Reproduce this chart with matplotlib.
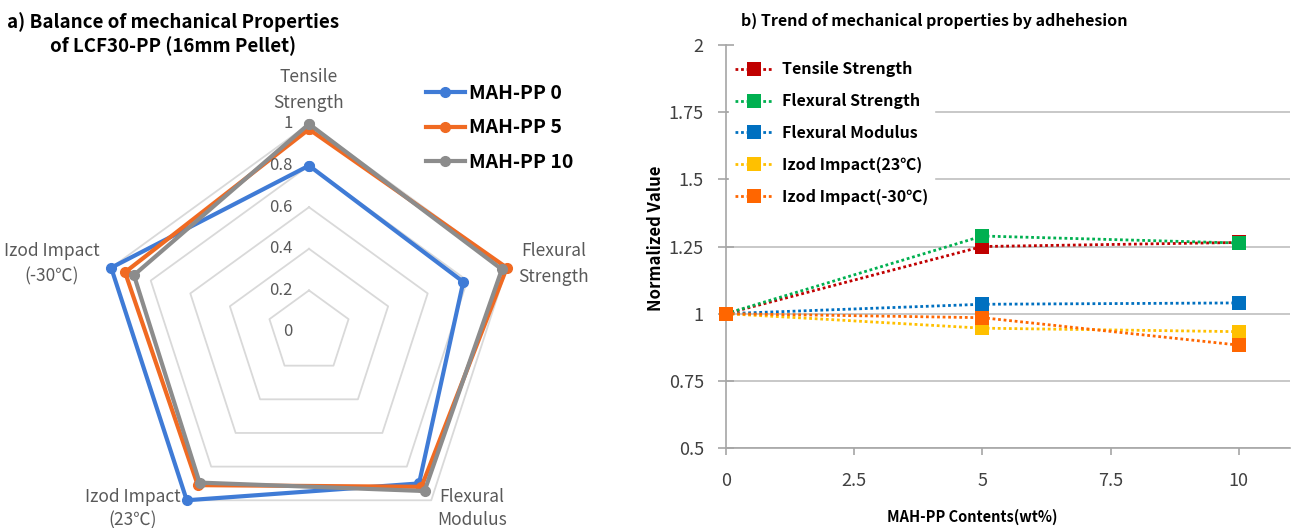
import numpy as np
import matplotlib
matplotlib.use('Agg')
import matplotlib.pyplot as plt
from matplotlib import transforms

plt.rcParams['font.family'] = ['Noto Sans CJK KR', 'DejaVu Sans']

# a) radar data (normalized to max)
radar_props = ['Tensile\nStrength', 'Flexural\nStrength', 'Flexural\nModulus',
               'Izod Impact\n(23℃)', 'Izod Impact\n(-30℃)']
radar_names = ['MAH-PP 0', 'MAH-PP 5', 'MAH-PP 10']
mah0 = [0.80, 0.78, 0.90, 1.00, 1.00]
mah5 = [0.975, 1.00, 0.92, 0.91, 0.93]
mah10 = [1.00, 0.975, 0.945, 0.895, 0.885]
radar_levels = [0, 0.2, 0.4, 0.6, 0.8, 1.0]

# b) trend data (normalized to MAH-PP 0)
contents = [0, 5, 10]
tensile = [1.0, 1.25, 1.265]
flex_strength = [1.0, 1.289, 1.263]
flex_modulus = [1.0, 1.035, 1.04]
izod_23 = [1.0, 0.946, 0.933]
izod_m30 = [1.0, 0.985, 0.883]
trend_names = ['Tensile Strength', 'Flexural Strength', 'Flexural Modulus',
               'Izod Impact(23℃)', 'Izod Impact(-30℃)']
y_ticks = [0.5, 0.75, 1, 1.25, 1.5, 1.75, 2]
x_ticks = [0, 2.5, 5, 7.5, 10]

W, H = 1297, 528
fig = plt.figure(figsize=(W / 100, H / 100), dpi=100)

# ---------- radar ----------
cx, cy, rad = 309, 332, 208
axr = fig.add_axes([(cx - rad) / W, (H - cy - rad) / H, 2 * rad / W, 2 * rad / H],
                   projection='polar')
axr.set_theta_offset(np.pi / 2)
axr.set_theta_direction(-1)
axr.set_ylim(0, 1)
axr.set_axis_off()

n = len(radar_props)
ang = np.linspace(0, 2 * np.pi, n, endpoint=False)
ang_c = np.append(ang, ang[0])

for lv in radar_levels[1:]:
    axr.plot(ang_c, [lv] * (n + 1), color='#D9D9D9', lw=1.3, zorder=1, clip_on=False)

radar_colors = ['#3F7BD6', '#F06A22', '#8C8C8C']
for vals, name, col in zip([mah0, mah5, mah10], radar_names, radar_colors):
    v = np.append(vals, vals[0])
    axr.plot(ang_c, v, color=col, lw=3, marker='o', ms=7, label=name,
             clip_on=False, zorder=3)

off = transforms.offset_copy(axr.transData, fig=fig, x=-16, y=0, units='dots')
for lv in radar_levels:
    axr.text(0, lv, '{:g}'.format(lv), transform=off, ha='right', va='center',
             fontsize=12, color='#595959')

label_pos = [(1.06, 'center', 'bottom', 1.55), (1.06, 'left', 'center', 1.55),
             (1.05, 'left', 'center', 1.35), (1.05, 'right', 'center', 1.35),
             (1.06, 'right', 'center', 1.55)]
for a, txt, (r, ha, va, ls) in zip(ang, radar_props, label_pos):
    axr.text(a, r, txt, ha=ha, va=va, multialignment='center', fontsize=12.5,
             color='#595959', linespacing=ls)

fig.text(173 / W, 1 - 34 / H, 'a) Balance of mechanical Properties\nof LCF30-PP (16mm Pellet)',
         ha='center', va='center', fontsize=13.5, fontweight='bold', linespacing=1.3)

fig.legend(*axr.get_legend_handles_labels(), loc='upper left',
           bbox_to_anchor=(418 / W, 1 - 76 / H), frameon=False,
           prop={'weight': 'bold', 'size': 14}, handlelength=2.0, handletextpad=0.2,
           labelspacing=0.8, borderaxespad=0)

# ---------- trend ----------
ax = fig.add_axes([726 / W, 1 - 448 / H, (1290 - 726) / W, (448 - 45) / H])
trend_colors = ['#C00000', '#00B050', '#0070C0', '#FFC000', '#FF6600']
for vals, name, col in zip([tensile, flex_strength, flex_modulus, izod_23, izod_m30],
                           trend_names, trend_colors):
    ax.plot(contents, vals, color=col, lw=2, linestyle=(0, (1, 1)), marker='s',
            ms=10, mew=0, label=name, clip_on=False, zorder=3)

ax.set_xlim(0, 11)
ax.set_ylim(0.5, 2)
ax.set_xticks(x_ticks)
ax.set_xticklabels(['{:g}'.format(t) for t in x_ticks])
ax.set_yticks(y_ticks)
ax.set_yticklabels(['{:g}'.format(t) for t in y_ticks])
ax.tick_params(axis='y', direction='inout', length=12, width=1.2, color='#A6A6A6',
               labelsize=13, labelcolor='#404040', pad=10)
ax.tick_params(axis='x', direction='out', length=5, width=1.2, color='#A6A6A6',
               labelsize=13, labelcolor='#404040', pad=12)
ax.yaxis.grid(True, color='#BFBFBF', lw=1.2)
ax.set_axisbelow(True)
ax.get_ygridlines()[-1].set_visible(False)
for s in ['top', 'right']:
    ax.spines[s].set_visible(False)
for s in ['left', 'bottom']:
    ax.spines[s].set_color('#A6A6A6')
    ax.spines[s].set_linewidth(1.2)

ax.set_title('b) Trend of mechanical properties by adhehesion', fontsize=11.5,
             fontweight='bold', x=(934 - 726) / 564, pad=14)
ax.set_ylabel('Normalized Value', fontsize=12, fontweight='bold')
ax.yaxis.set_label_coords(-0.108, 0.521)
ax.set_xlabel('MAH-PP Contents(wt%)', fontsize=10.5, fontweight='bold')
ax.xaxis.set_label_coords(0.436, -0.152)

leg = ax.legend(loc='upper left', bbox_to_anchor=(0.005, 0.975), frameon=True,
                fancybox=False, edgecolor='white', facecolor='white', framealpha=1,
                prop={'weight': 'bold', 'size': 11.5}, handlelength=2.3,
                handletextpad=0.6, labelspacing=0.98, borderaxespad=0)

fig.savefig('out.png', dpi=100)
